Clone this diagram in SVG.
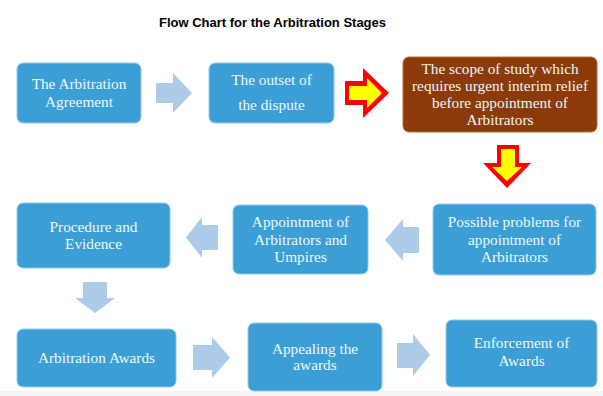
<svg xmlns="http://www.w3.org/2000/svg" width="603" height="396" viewBox="0 0 603 396">
<style>
.bg{fill:#ffffff}
.band{fill:#f4f4f4}
.title{font-family:"Liberation Sans",Arial,sans-serif;font-weight:bold;font-size:13px;fill:#000000;text-anchor:middle}
.box{fill:#3b9fd6;stroke:#93cbec;stroke-width:1}
.brown{fill:#8b3a08;stroke:#b86a3c;stroke-width:1}
.t{font-family:"Liberation Serif","Times New Roman",serif;font-size:15.3px;fill:#eef7fc;text-anchor:middle}
.la{fill:#abcbe9}
.ro{fill:#ff0000}
.yi{fill:#ffff00}
</style>
<rect class="bg" x="0" y="0" width="603" height="396"/>
<rect class="band" x="0" y="391" width="603" height="5"/>
<text class="title" x="272.5" y="27">Flow Chart for the Arbitration Stages</text>

<g id="connectors">
  <polygon class="la" points="156,83 173,83 173,73 192,93 173,113 173,103 156,103"/>
  <g id="red-right">
    <polygon class="ro" points="345,81 363,81 363,68 389,93 363,118 363,105 345,105"/>
    <polygon class="yi" points="349,86 367,86 367,78 382,93 367,108 367,100 349,100"/>
  </g>
  <g id="red-down">
    <polygon class="ro" points="497,145 519,145 519,163 531,163 507,188 483,163 497,163"/>
    <polygon class="yi" points="501,149 515,149 515,167 522,167 507,181 492,167 501,167"/>
  </g>
  <polygon class="la" points="419,227 403,227 403,219 385,240 403,261 403,253 419,253"/>
  <polygon class="la" points="218,225 202,225 202,217 186,237.5 202,258 202,250 218,250"/>
  <polygon class="la" points="83,282 107,282 107,298 115,298 95,313 75,298 83,298"/>
  <polygon class="la" points="193,345 212,345 212,337 230,357.5 212,378 212,370 193,370"/>
  <polygon class="la" points="397,343 413,343 413,334 430,355 413,376 413,368 397,368"/>
</g>

<g id="n1">
  <rect class="box" x="17" y="63" width="124" height="60" rx="6"/>
  <text class="t" x="79" y="89">The Arbitration</text>
  <text class="t" x="79" y="107">Agreement</text>
</g>
<g id="n2">
  <rect class="box" x="209" y="63" width="125" height="60" rx="6"/>
  <text class="t" x="271.5" y="85">The outset of</text>
  <text class="t" x="271.5" y="110">the dispute</text>
</g>
<g id="n3">
  <rect class="brown" x="403" y="57" width="194" height="75" rx="6"/>
  <text class="t" x="500" y="74">The scope of study which</text>
  <text class="t" x="500" y="91">requires urgent interim relief</text>
  <text class="t" x="500" y="108">before appointment of</text>
  <text class="t" x="500" y="125">Arbitrators</text>
</g>
<g id="n4">
  <rect class="box" x="433" y="204" width="163" height="71" rx="6"/>
  <text class="t" x="514.5" y="227">Possible problems for</text>
  <text class="t" x="514.5" y="245">appointment of</text>
  <text class="t" x="514.5" y="262">Arbitrators</text>
</g>
<g id="n5">
  <rect class="box" x="233" y="205" width="135" height="69" rx="6"/>
  <text class="t" x="300.5" y="227">Appointment of</text>
  <text class="t" x="300.5" y="245">Arbitrators and</text>
  <text class="t" x="300.5" y="262">Umpires</text>
</g>
<g id="n6">
  <rect class="box" x="17" y="203" width="153" height="65" rx="6"/>
  <text class="t" x="93.5" y="232">Procedure and</text>
  <text class="t" x="93.5" y="249">Evidence</text>
</g>
<g id="n7">
  <rect class="box" x="17" y="329" width="159" height="58" rx="6"/>
  <text class="t" x="96.5" y="363">Arbitration Awards</text>
</g>
<g id="n8">
  <rect class="box" x="248" y="323" width="134" height="68" rx="6"/>
  <text class="t" x="315" y="354">Appealing the</text>
  <text class="t" x="315" y="370">awards</text>
</g>
<g id="n9">
  <rect class="box" x="446" y="320" width="151" height="67" rx="6"/>
  <text class="t" x="521.5" y="348">Enforcement of</text>
  <text class="t" x="521.5" y="366">Awards</text>
</g>
</svg>
